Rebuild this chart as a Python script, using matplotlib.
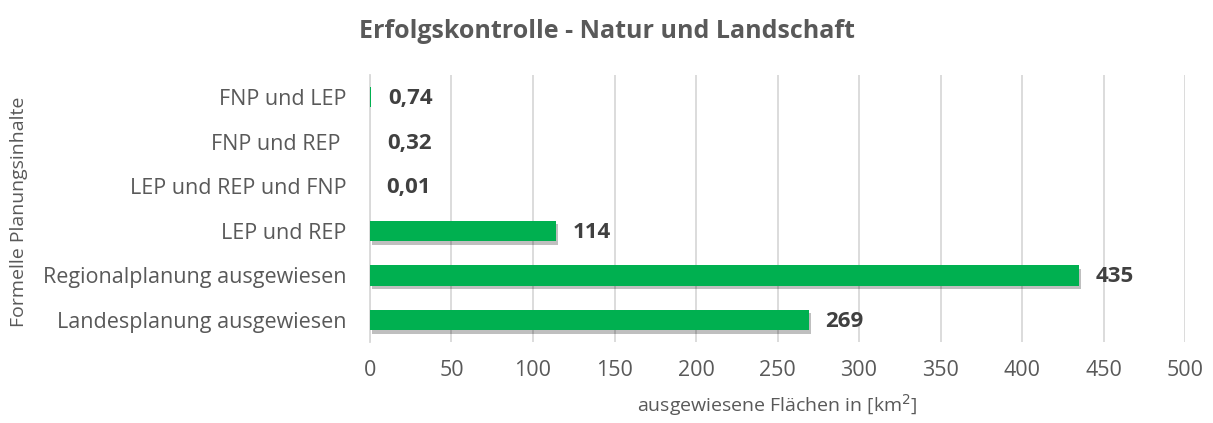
import matplotlib.pyplot as plt
import matplotlib.patheffects as pe
import numpy as np

# Daten (von unten nach oben)
kategorien = ['Landesplanung ausgewiesen', 'Regionalplanung ausgewiesen', 'LEP und REP',
              'LEP und REP und FNP', 'FNP und REP ', 'FNP und LEP']
flaechen = [269, 435, 114, 0.01, 0.32, 0.74]
beschriftung = ['269', '435', '114', '0,01', '0,32', '0,74']
xticks = [0, 50, 100, 150, 200, 250, 300, 350, 400, 450, 500]

plt.rcParams['font.family'] = ['Open Sans', 'DejaVu Sans']

fig = plt.figure(figsize=(12.13, 4.23), dpi=100)
ax = fig.add_axes([0.305, 0.191, 0.672, 0.632])

y_pos = np.arange(len(kategorien))
bars = ax.barh(y_pos, flaechen, height=0.46, color='#00B050', zorder=3)
for b, v in zip(bars, flaechen):
    if v > 1:  # Schatten nur bei sichtbaren Balken
        b.set_path_effects([pe.SimplePatchShadow(offset=(1.5, -2.5), shadow_rgbFace='#000000', alpha=0.25),
                            pe.Normal()])

for i, (v, t) in enumerate(zip(flaechen, beschriftung)):
    ax.annotate(t, (v, i), xytext=(12, -1), textcoords='offset points',
                va='center', ha='left', fontsize=16, fontweight='bold', color='#404040')

ax.set_xlim(0, 500)
ax.set_ylim(-0.5, len(kategorien) - 0.5)
ax.set_xticks(xticks)
ax.set_yticks(y_pos)
ax.set_yticklabels(kategorien)
ax.tick_params(axis='both', length=0, labelsize=15.5, colors='#595959')
ax.tick_params(axis='x', pad=13)
ax.tick_params(axis='y', pad=17)
ax.grid(axis='x', color='#D9D9D9', linewidth=1.3, zorder=0)
for s in ['top', 'right', 'bottom']:
    ax.spines[s].set_visible(False)
ax.spines['left'].set_color('#D9D9D9')
ax.spines['left'].set_linewidth(1.3)

ax.set_xlabel('ausgewiesene Flächen in [km$^2$]', fontsize=14, color='#595959', labelpad=8)
fig.text(0.008, 0.5, 'Formelle Planungsinhalte', rotation=90, va='center', ha='left',
         fontsize=14, color='#595959')
fig.suptitle('Erfolgskontrolle - Natur und Landschaft', x=0.5, y=0.955,
             fontsize=18, fontweight='bold', color='#595959')

fig.savefig('out.png', dpi=100)
